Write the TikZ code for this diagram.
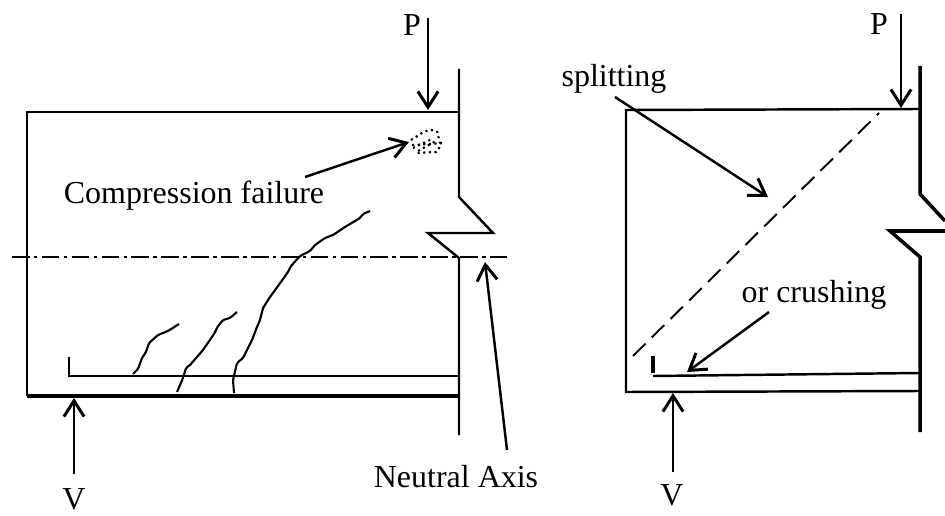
\documentclass[tikz,border=0pt]{standalone}
\usepackage{fontspec}
\usetikzlibrary{arrows.meta}
\setmainfont{Liberation Serif}

\begin{document}
\begin{tikzpicture}[x=0.02cm,y=-0.02cm,line join=miter,
    beamline/.style={line width=1.4pt},
    wallline/.style={line width=2pt},
    loadarrow/.style={line width=1.4pt,-{Straight Barb[length=9pt,width=11.5pt,line width=1.7pt]}},
    crackline/.style={line width=1.2pt,rounded corners=0.8pt},
    labeltext/.style={inner sep=0pt,anchor=base,font=\fontsize{18.2}{20}\selectfont}]
    \useasboundingbox (0,0) rectangle (945,516);

    % labels
    \node[labeltext] (Pleft) at (412,36) {P};
    \node[labeltext] (Vleft) at (74,509) {V};
    \node[labeltext] (failure) at (194,204) {Compression failure};
    \node[labeltext] (axis) at (456,487) {Neutral Axis};
    \node[labeltext] (Pright) at (879,35) {P};
    \node[labeltext] (Vright) at (672,505) {V};
    \node[labeltext] (split) at (614,87) {splitting};
    \node[labeltext] (crush) at (814,303) {or crushing};

    % left beam
    \draw[beamline] (459,112) -- (27,112) -- (27,396);
    \draw[line width=2.1pt] (27,396) -- (459,396);
    \draw[beamline] (459,69) -- (459,197) -- (493,233) -- (428,233) -- (459,258) -- (459,435);
    \draw[beamline] (69,357) -- (69,376) -- (459,376);
    \draw[line width=1.3pt,dash pattern=on 10pt off 2.5pt on 2pt off 2.5pt] (12,257) -- (507,257);

    % cracks
    \draw[crackline] (370,211) -- (363,214) -- (360,218) -- (345,227) -- (333,235) -- (325,238) -- (315,245) -- (310,251) -- (300,256) -- (291,266) -- (288,272) -- (278,286) -- (270,297) -- (263,308) -- (260,320) -- (257,327) -- (252,340) -- (247,350) -- (243,358) -- (237,363) -- (233,380) -- (234,393);
    \draw[crackline] (237,312) -- (230,318) -- (223,320) -- (218,326) -- (214,334) -- (203,350) -- (197,357) -- (190,365) -- (186,368) -- (183,378) -- (177,392);
    \draw[crackline] (179,324) -- (168,331) -- (158,335) -- (149,343) -- (146,352) -- (142,358) -- (138,369) -- (133,374);

    % crushed zone
    \draw[line width=1.2pt,dotted] (411,140) -- (422,133) .. controls (430,128) and (440,130) .. (438,136) .. controls (442,142) and (440,150) .. (436,152) -- (415,153);
    \draw[line width=1.2pt,dotted] (412,145) -- (445,143);
    \draw[line width=1.2pt,dotted] (413,148) -- (432,139);
    \draw[line width=1.2pt,dotted] (418,151) -- (436,141);

    % arrows, left
    \coordinate (Ptop) at (428,18);
    \coordinate (Ptip) at (428,110);
    \coordinate (Vtail) at (74,474);
    \coordinate (Vtip) at (74,398);
    \coordinate (failtail) at (305,177);
    \coordinate (failtip) at (409,142);
    \coordinate (axistail) at (507,450);
    \coordinate (axistip) at (485,262);
    \draw[loadarrow] (Ptop) -- (Ptip);
    \draw[loadarrow] (Vtail) -- (Vtip);
    \draw[loadarrow] (failtail) -- (failtip);
    \draw[loadarrow] (axistail) -- (axistip);

    % right beam
    \draw[beamline] (920,109) -- (626,110) -- (626,392) -- (920,391);
    \draw[wallline] (920,66) -- (920,194) -- (945,221);
    \draw[wallline] (945,231) -- (890,231) -- (920,257) -- (920,432);
    \draw[line width=2pt] (653,356) -- (653,373);
    \draw[beamline] (653,376) -- (920,373);
    \draw[line width=1.1pt,dash pattern=on 10pt off 5pt] (633,356) -- (879,113);

    % arrows, right
    \coordinate (Ptopr) at (901,14);
    \coordinate (Ptipr) at (901,108);
    \coordinate (Vtailr) at (673,472);
    \coordinate (Vtipr) at (673,393);
    \coordinate (splittail) at (615,97);
    \coordinate (splittip) at (768,197);
    \coordinate (crushtail) at (769,312);
    \coordinate (crushtip) at (687,372);
    \draw[loadarrow] (Ptopr) -- (Ptipr);
    \draw[loadarrow] (Vtailr) -- (Vtipr);
    \draw[loadarrow] (splittail) -- (splittip);
    \draw[loadarrow] (crushtail) -- (crushtip);
\end{tikzpicture}
\end{document}
